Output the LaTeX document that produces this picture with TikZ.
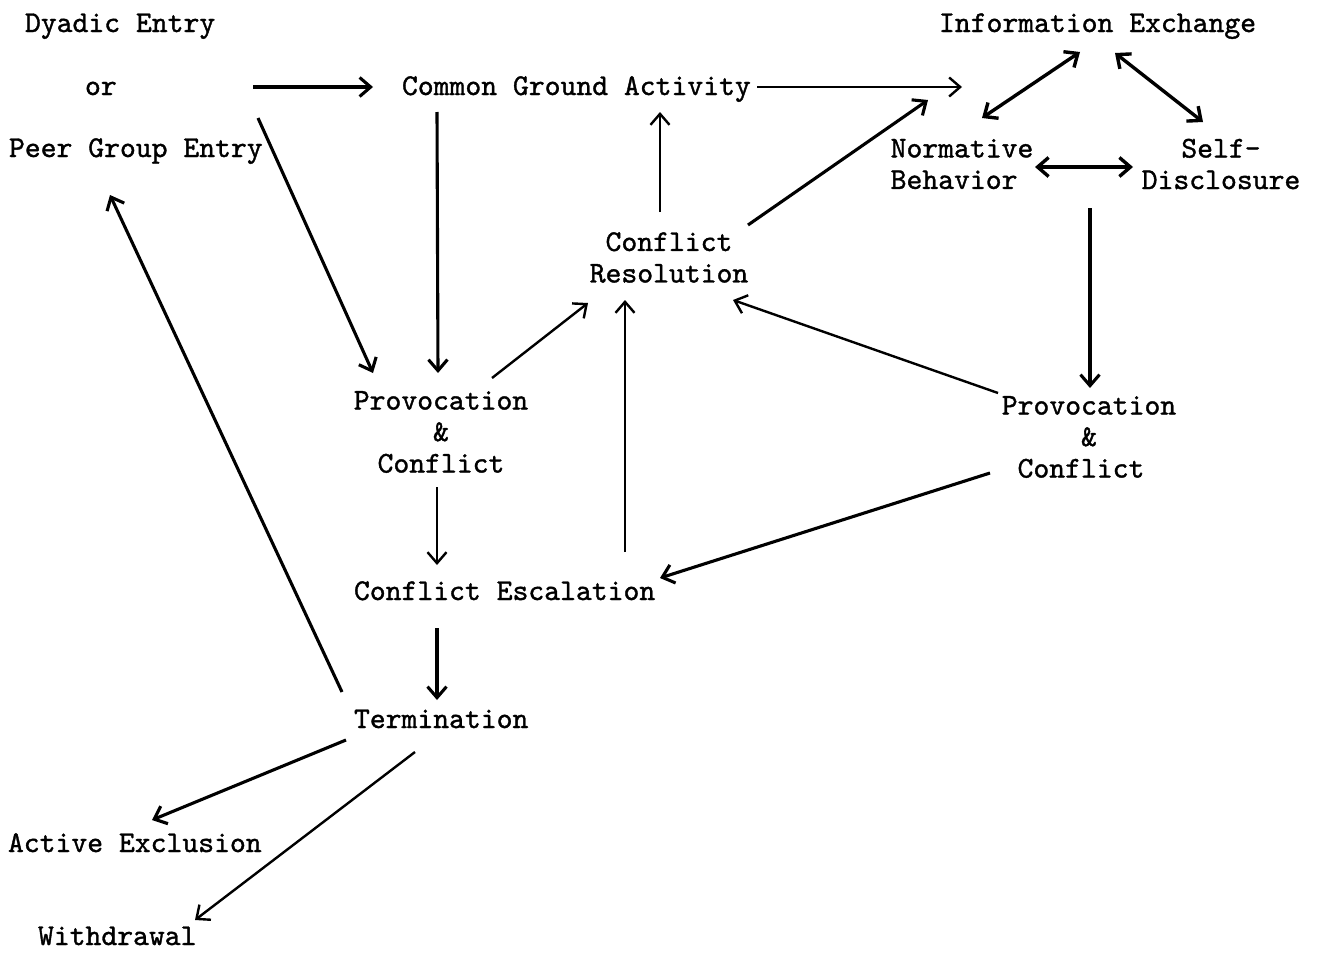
\documentclass[tikz,border=0pt]{standalone}
\usepackage{fontspec}
\usetikzlibrary{arrows.meta}
\newfontfamily\twfont{lmmono10-regular.otf}[FakeBold=1.2]
\begin{document}
\begin{tikzpicture}[x=1pt,y=-1pt,
  lbl/.style={font=\twfont\fontsize{30.2}{31.5}\selectfont, inner sep=0pt, outer sep=0pt},
  arr/.style={line width=3.1pt, -{Straight Barb[length=11pt,width=19pt]}},
  arrthin/.style={line width=2.4pt, -{Straight Barb[length=11pt,width=19pt]}},
  darr/.style={line width=3.4pt, {Straight Barb[length=11pt,width=19pt]}-{Straight Barb[length=11pt,width=19pt]}}]
\useasboundingbox (0,0) rectangle (1317,953);
% nodes
\node[lbl, anchor=base west] (dy) at (25,32) {Dyadic Entry};
\node[lbl, anchor=base west] (or) at (85,95) {or};
\node[lbl, anchor=base west] (pg) at (9,157) {Peer Group Entry};
\node[lbl, anchor=base west] (cga) at (402,95) {Common Ground Activity};
\node[lbl, anchor=base west] (ie) at (939,32) {Information Exchange};
\node[lbl, align=left] (nb) at (962,164) {Normative\\Behavior};
\node[lbl, align=center] (sd) at (1221,164) {Self-\\Disclosure};
\node[lbl, align=center] (cr) at (669,257.5) {Conflict\\Resolution};
\node[lbl, align=center] (pcl) at (441,432) {Provocation\\\&\\Conflict};
\node[lbl, align=center] (pcr) at (1089,437) {Provocation\\\&\\Conflict\hspace*{16pt}};
\node[lbl, anchor=base west] (ce) at (354,600) {Conflict Escalation};
\node[lbl, anchor=base west] (te) at (354,728) {Termination};
\node[lbl, anchor=base west] (ae) at (8,852) {Active Exclusion};
\node[lbl, anchor=base west] (wd) at (38,945) {Withdrawal};
% connectors
\draw[arr] ([shift={(168,-8)}]or.base west) -- ([shift={(-29,-8)}]cga.base west);
\draw[arrthin] ([shift={(355,-8)}]cga.base west) -- ([shift={(23,55)}]ie.base west);
\draw[arr] ([shift={(35,17)}]cga.base west) -- ([shift={(-3,-59)}]pcl.center);
\draw[arr] ([shift={(249,-39)}]pg.base west) -- ([shift={(-68,-59)}]pcl.center);
\draw[arrthin] ([shift={(51,-54)}]pcl.center) -- ([shift={(-81,45.5)}]cr.center);
\draw[arrthin] ([shift={(-9,-45.5)}]cr.center) -- ([shift={(258,17)}]cga.base west);
\draw[arr] ([shift={(79,-32.5)}]cr.center) -- ([shift={(-34,-64)}]nb.center);
\draw[darr] ([shift={(141,20)}]ie.base west) -- ([shift={(20,-46)}]nb.center);
\draw[darr] ([shift={(176,21)}]ie.base west) -- ([shift={(-18,-42)}]sd.center);
\draw[darr] ([shift={(73,3)}]nb.center) -- ([shift={(-88,3)}]sd.center);
\draw[arr] ([shift={(-131,44)}]sd.center) -- ([shift={(1,-49)}]pcr.center);
\draw[arrthin] ([shift={(-91,-44)}]pcr.center) -- ([shift={(64,42.5)}]cr.center);
\draw[arr] ([shift={(-99,36)}]pcr.center) -- ([shift={(306,-22)}]ce.base west);
\draw[arrthin] ([shift={(271,-48)}]ce.base west) -- ([shift={(-44,42.5)}]cr.center);
\draw[arrthin] ([shift={(-4,55)}]pcl.center) -- ([shift={(83,-35)}]ce.base west);
\draw[arr] ([shift={(83,28)}]ce.base west) -- ([shift={(83,-28)}]te.base west);
\draw[arr] ([shift={(-12,-36)}]te.base west) -- ([shift={(101,38)}]pg.base west);
\draw[arr] ([shift={(-8,12)}]te.base west) -- ([shift={(144,-32)}]ae.base west);
\draw[arrthin] ([shift={(61,24)}]te.base west) -- ([shift={(157,-25)}]wd.base west);
\end{tikzpicture}
\end{document}
